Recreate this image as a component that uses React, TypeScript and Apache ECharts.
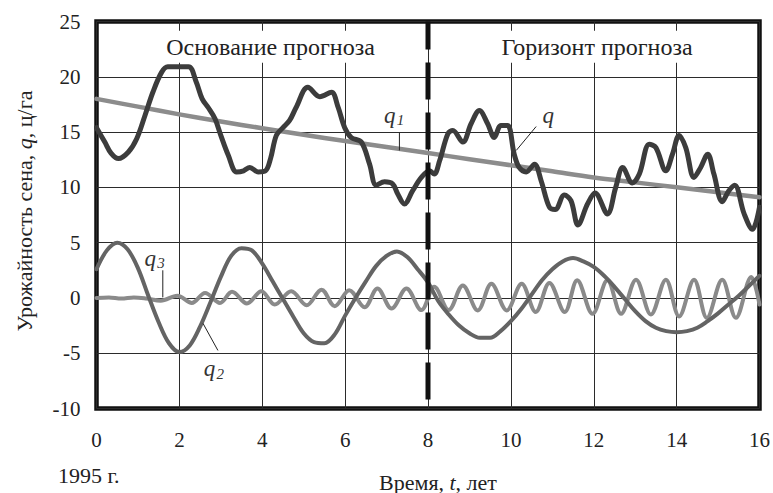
import React, { useEffect, useRef } from "react";
import * as echarts from "echarts";

// Time axis (years from 1995) and yield axis (ц/га)
const timeTicks = { min: 0, max: 16, step: 2 };
const yieldTicks = { min: -10, max: 25, step: 5 };

// q — trend component
const trendQ: [number, number][] = [
  [0, 18.0], [1, 17.3], [2, 16.6], [3, 15.95], [4, 15.35], [5, 14.75], [6, 14.2],
  [7, 13.65], [8, 13.1], [9, 12.55], [10, 12.0], [11, 11.45], [12, 10.9],
  [13, 10.45], [14, 10.0], [15, 9.55], [16, 9.1],
];

// q2 — long-period oscillation
const waveQ2: [number, number][] = [
  [0, 2.6], [0.25, 4.3], [0.5, 5.0], [0.75, 4.4], [1.0, 2.7], [1.25, 0.2], [1.5, -2.2],
  [1.75, -4.1], [2.0, -4.9], [2.25, -4.3], [2.5, -2.6], [2.75, -0.4], [3.0, 1.9],
  [3.25, 3.8], [3.5, 4.5], [3.75, 4.3], [4.0, 3.1], [4.25, 1.5], [4.5, -0.1],
  [4.75, -1.7], [5.0, -3.2], [5.25, -4.0], [5.5, -4.1], [5.75, -3.3], [6.0, -1.6],
  [6.25, 0.0], [6.5, 1.5], [6.75, 2.9], [7.0, 3.8], [7.25, 4.2], [7.5, 3.7],
  [7.75, 2.6], [8.0, 1.4], [8.25, -0.3], [8.5, -1.5], [8.75, -2.5], [9.0, -3.2],
  [9.25, -3.6], [9.5, -3.6], [9.75, -3.0], [10.0, -2.1], [10.25, -1.0], [10.5, 0.3],
  [10.75, 1.6], [11.0, 2.6], [11.25, 3.3], [11.5, 3.6], [11.75, 3.3], [12.0, 2.8],
  [12.25, 2.0], [12.5, 1.0], [12.75, -0.1], [13.0, -1.2], [13.25, -2.1], [13.5, -2.7],
  [13.75, -3.0], [14.0, -3.1], [14.25, -3.0], [14.5, -2.7], [14.75, -2.1], [15.0, -1.4],
  [15.25, -0.6], [15.5, 0.2], [15.75, 1.1], [16.0, 2.0],
];

// q3 — short-period ripple
const rippleQ3: [number, number][] = [
  [0, 0], [0.3, 0.05], [0.6, -0.05], [0.9, 0.05], [1.2, -0.05], [1.55, -0.25],
  [1.95, 0.2], [2.3, -0.45], [2.62, 0.45], [2.98, -0.45], [3.27, 0.55], [3.63, -0.5],
  [3.98, 0.6], [4.3, -0.6], [4.7, 0.6], [5.07, -0.66], [5.43, 0.75], [5.75, -0.75],
  [6.1, 0.7], [6.47, -0.85], [6.78, 0.85], [7.12, -0.96], [7.48, 0.85], [7.84, -1.1],
  [8.15, 1.0], [8.5, -1.1], [8.84, 1.13], [9.2, -1.13], [9.53, 1.28], [9.9, -1.13],
  [10.26, 1.28], [10.6, -1.28], [10.93, 1.35], [11.3, -1.28], [11.6, 1.6], [11.97, -1.43],
  [12.33, 1.6], [12.66, -1.43], [13.02, 1.65], [13.38, -1.5], [13.74, 1.65], [14.06, -1.67],
  [14.42, 1.65], [14.73, -1.8], [15.1, 1.65], [15.43, -1.8], [15.8, 1.9], [16, -0.6],
];

// q1 — observed / forecast yield
const yieldQ1: [number, number][] = [
  [0, 15.4], [0.2, 14.1], [0.35, 13.1], [0.53, 12.6], [0.77, 13.2], [0.97, 14.4],
  [1.17, 16.5], [1.36, 18.6], [1.57, 20.4], [1.72, 20.9], [2.22, 20.9], [2.4, 19.6],
  [2.55, 18.0], [2.7, 17.2], [2.86, 16.2], [3.0, 14.7], [3.18, 12.9], [3.38, 11.4],
  [3.55, 11.5], [3.7, 11.8], [3.9, 11.4], [4.08, 11.5], [4.2, 12.6], [4.34, 14.7],
  [4.5, 15.4], [4.66, 16.05], [4.82, 17.25], [5.1, 19.06], [5.39, 18.2], [5.67, 18.6],
  [5.83, 17.25], [5.99, 15.4], [6.15, 14.5], [6.39, 14.1], [6.59, 12.1], [6.75, 10.2],
  [6.95, 10.5], [7.15, 10.3], [7.27, 9.4], [7.43, 8.5], [7.63, 9.7], [7.84, 10.9],
  [8.04, 11.5], [8.15, 11.2], [8.28, 12.4], [8.48, 14.85], [8.6, 15.15], [8.84, 14.1],
  [9.04, 15.75], [9.24, 16.95], [9.44, 15.75], [9.6, 14.5], [9.76, 15.6], [9.92, 15.6],
  [10.08, 13.0], [10.2, 11.8], [10.37, 11.4], [10.57, 12.1], [10.73, 10.6], [10.93, 8.2],
  [11.07, 8.0], [11.29, 9.3], [11.45, 8.8], [11.62, 6.6], [11.85, 8.5], [12.03, 9.5],
  [12.33, 7.6], [12.53, 10.0], [12.7, 11.8], [12.93, 10.4], [13.1, 11.2], [13.34, 13.9],
  [13.5, 13.6], [13.74, 11.5], [13.9, 13.0], [14.06, 14.7], [14.22, 13.6], [14.42, 10.9],
  [14.58, 11.8], [14.75, 13.0], [14.9, 11.2], [15.1, 8.7], [15.26, 9.7], [15.4, 10.2],
  [15.63, 7.6], [15.83, 6.2], [16.0, 8.2],
];

// Boundary between the base period and the forecast horizon
const forecastStart = 8;

const regionNames = ["Основание прогноза", "Горизонт прогноза"];
const curveNames = ["q", "q1", "q2", "q3"];

const SERIF = "Liberation Serif";

export default function App() {
  const ref = useRef<HTMLDivElement>(null);

  useEffect(() => {
    const chart = echarts.init(ref.current!, null, { renderer: "svg" });

    const curve = (name: string, data: [number, number][], color: string, width: number, z: number) => ({
      type: "line",
      name,
      data,
      smooth: 0.35,
      showSymbol: false,
      symbol: "none",
      lineStyle: { color, width, cap: "round", join: "round" },
      z,
    });

    chart.setOption({
      animation: false,
      grid: {
        left: 96.5,
        right: 12,
        top: 21.5,
        bottom: 84.5,
        show: true,
        borderColor: "#111",
        borderWidth: 4.5,
        backgroundColor: "transparent",
      },
      xAxis: {
        type: "value",
        min: timeTicks.min,
        max: timeTicks.max,
        interval: timeTicks.step,
        axisLine: { show: false },
        axisTick: { show: false },
        splitLine: { show: true, lineStyle: { color: "#2b2b2b", width: 1 } },
        axisLabel: { fontFamily: SERIF, fontSize: 21, color: "#222", margin: 21 },
      },
      yAxis: {
        type: "value",
        min: yieldTicks.min,
        max: yieldTicks.max,
        interval: yieldTicks.step,
        axisLine: { show: false },
        axisTick: { show: false },
        splitLine: { show: true, lineStyle: { color: "#2b2b2b", width: 1 } },
        axisLabel: { fontFamily: SERIF, fontSize: 21, color: "#222", margin: 16 },
      },
      series: [
        curve(curveNames[3], rippleQ3, "#8a8a8a", 4, 2),
        curve(curveNames[2], waveQ2, "#646464", 4, 3),
        curve(curveNames[0], trendQ, "#8c8c8c", 4.5, 3),
        curve(curveNames[1], yieldQ1, "#3c3c3c", 5, 4),
        {
          type: "line",
          name: "boundary",
          data: [
            [forecastStart, yieldTicks.max],
            [forecastStart, yieldTicks.min],
          ],
          showSymbol: false,
          symbol: "none",
          lineStyle: { color: "#111", width: 5, type: [37, 13], dashOffset: 8.5 },
          z: 6,
        },
      ],
    });

    const at = (t: number, v: number) => chart.convertToPixel({ gridIndex: 0 }, [t, v]) as number[];

    // Curve labels with thin leader lines, anchored in data units
    const callouts = [
      { sub: "1", label: [7.2, 16.5], from: [7.31, 14.96], to: [7.31, 13.34] },
      { sub: "", label: [10.9, 16.5], from: [10.61, 15.5], to: [10.13, 13.34] },
      { sub: "3", label: [1.42, 3.6], from: [1.6, 2.5], to: [1.6, 0.05] },
      { sub: "2", label: [2.85, -6.4], from: [2.57, -2.3], to: [2.93, -4.75] },
    ];

    const graphics: any[] = [];
    callouts.forEach((c) => {
      const [lx, ly] = at(c.label[0], c.label[1]);
      const [x1, y1] = at(c.from[0], c.from[1]);
      const [x2, y2] = at(c.to[0], c.to[1]);
      graphics.push({
        type: "line",
        shape: { x1, y1, x2, y2 },
        style: { stroke: "#222", lineWidth: 1 },
        z: 10,
      });
      graphics.push({
        type: "text",
        x: lx - (c.sub ? 5 : 0),
        y: ly,
        style: {
          text: "q",
          fontFamily: SERIF,
          fontSize: 23,
          fontStyle: "italic",
          fill: "#333",
          align: "center",
          verticalAlign: "middle",
        },
        z: 10,
      });
      if (c.sub) {
        graphics.push({
          type: "text",
          x: lx + 2,
          y: ly + 5,
          style: {
            text: c.sub,
            fontFamily: SERIF,
            fontSize: 15,
            fontStyle: "italic",
            fill: "#333",
            align: "left",
            verticalAlign: "middle",
          },
          z: 10,
        });
      }
    });

    // Period headings with a white box over the grid
    const [baseX, headY] = at(4.2, 22.8);
    const [horizonX] = at(12.08, 22.8);
    [
      [regionNames[0], baseX],
      [regionNames[1], horizonX],
    ].forEach(([text, x]) => {
      graphics.push({
        type: "text",
        x: x as number,
        y: headY + 1,
        style: {
          text: text as string,
          fontFamily: SERIF,
          fontSize: 24,
          fill: "#222",
          align: "center",
          verticalAlign: "middle",
          backgroundColor: "#fff",
          padding: [3, 3, 5, 3],
        },
        z: 8,
      });
    });

    const plain = { fontFamily: SERIF, fontSize: 22, fill: "#222" };
    const italic = { fontFamily: SERIF, fontSize: 22, fontStyle: "italic", fill: "#222" };

    // Axis titles and the start year
    graphics.push({
      type: "text",
      x: 24,
      y: 211,
      rotation: Math.PI / 2,
      style: {
        text: "{n|Урожайность сена, }{i|q}{n|, ц/га}",
        align: "center",
        verticalAlign: "middle",
        rich: { n: plain, i: italic },
      },
    });
    graphics.push({
      type: "text",
      x: 438,
      y: 482,
      style: {
        text: "{n|Время, }{i|t}{n|, лет}",
        align: "center",
        verticalAlign: "middle",
        rich: { n: plain, i: italic },
      },
    });
    graphics.push({
      type: "text",
      x: 58,
      y: 475,
      style: { ...plain, text: "1995 г.", align: "left", verticalAlign: "middle" },
    });

    chart.setOption({ graphic: graphics });

    return () => chart.dispose();
  }, []);

  return <div ref={ref} style={{ width: 773, height: 493, position: "absolute", left: 0, top: 0 }} />;
}
